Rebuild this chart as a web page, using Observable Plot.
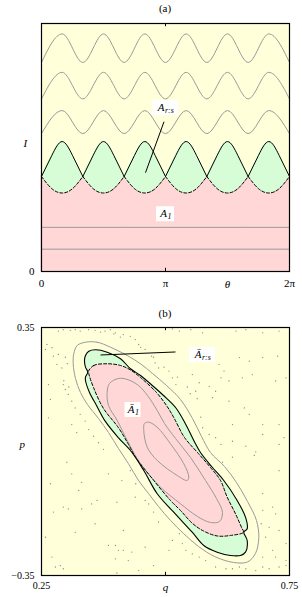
<!DOCTYPE html>
<html><head><meta charset="utf-8">
<script src="https://cdn.jsdelivr.net/npm/d3@7"></script>
<script src="https://cdn.jsdelivr.net/npm/@observablehq/plot@0.6"></script>
<style>
body{margin:0;background:#fff;width:302px;height:597px;position:relative;overflow:hidden;font-family:"Liberation Serif","DejaVu Serif",serif;}
.ptitle{position:absolute;left:0;width:330px;text-align:center;font-size:11px;line-height:12px;}
#a,#b{position:absolute;left:0;}
</style></head><body>
<div id="a" style="top:0"></div>
<div id="b" style="top:300px"></div>
<div class="ptitle" style="top:2px">(a)</div>
<div class="ptitle" style="top:307px">(b)</div>
<script>
const PI = Math.PI;
// ---------- Panel (a) data ----------
const thetaTicks = [0, PI, 2 * PI];
const thetaTickLabels = ["0", "π", "2π"];
const thetaExtrema = [0, PI/6, PI/3, PI/2, 2*PI/3, 5*PI/6, PI, 7*PI/6, 4*PI/3, 3*PI/2, 5*PI/3, 11*PI/6, 2*PI];
const grayWaveTroughs = [0.843, 0.696, 0.556];
const grayWavePeaks = [0.958, 0.803, 0.649];
const flatLevels = [0.178, 0.090];
const cuspTheta = [0, PI/3, 2*PI/3, PI, 4*PI/3, 5*PI/3, 2*PI];
const lobeFrac = [0, 0.25, 0.5, 0.75, 1];
const upperLobeI = [0.383, 0.468, 0.524, 0.468, 0.383];
const lowerLobeI = [0.383, 0.334, 0.3165, 0.334, 0.383];
const labelsA = [
  {main: "A", sub: "r:s", theta: PI, I: 0.661, dxMain: -1, dxSub: -0.5, halfW: 13},
  {main: "A", sub: "1", theta: PI, I: 0.233, dxMain: 1.5, dxSub: 2, halfW: 9}
];
const pointerA = [{theta1: 3.104, I1: 0.604, theta2: 2.635, I2: 0.3985}];

// ---------- Panel (b) data ----------
const qTicks = [0.25, 0.75];
const pTicks = [-0.35, 0.35];
const outerGray = [[0.3387,0.3085],[0.3623,0.3085],[0.3891,0.2944],[0.4228,0.271],[0.4496,0.2476],[0.4738,0.2202],[0.502,0.1863],[0.5302,0.1468],[0.5544,0.0932],[0.5726,0.0424],[0.5907,-0.0028],[0.6189,-0.0423],[0.6431,-0.0874],[0.6653,-0.141],[0.6834,-0.1946],[0.6881,-0.2433],[0.6814,-0.2878],[0.6653,-0.3118],[0.6371,-0.3132],[0.5988,-0.2962],[0.5665,-0.268],[0.5363,-0.2313],[0.51,-0.1946],[0.4859,-0.1551],[0.4657,-0.1184],[0.4456,-0.0818],[0.4254,-0.0346],[0.4052,0.0085],[0.3851,0.0537],[0.3649,0.0932],[0.3427,0.1327],[0.3286,0.1666],[0.3185,0.2061],[0.3139,0.2476],[0.3151,0.2758],[0.322,0.2992]];
const separatrix = [[0.3367,0.2569],[0.3387,0.271],[0.3454,0.2831],[0.3589,0.2871],[0.3825,0.2803],[0.4093,0.2617],[0.4294,0.2335],[0.4496,0.2145],[0.4758,0.1835],[0.496,0.1581],[0.5207,0.1234],[0.5409,0.0763],[0.5578,0.0291],[0.5705,-0.0028],[0.5947,-0.0451],[0.6175,-0.0818],[0.6445,-0.1382],[0.6613,-0.1853],[0.6647,-0.2181],[0.6579,-0.2277],[0.6647,-0.2511],[0.6613,-0.2841],[0.6512,-0.2934],[0.631,-0.2934],[0.6042,-0.2841],[0.5772,-0.2652],[0.5534,-0.2271],[0.5151,-0.1692],[0.4833,-0.1193],[0.4562,-0.0535],[0.4294,0.0029],[0.4052,0.0387],[0.3784,0.0856],[0.3609,0.1299],[0.3468,0.1666],[0.3387,0.2004],[0.3387,0.2097],[0.3433,0.2239],[0.3387,0.238]];
const islandEdge = [[0.3448,0.2267],[0.3554,0.2428],[0.3825,0.2476],[0.4093,0.2428],[0.4294,0.2301],[0.4496,0.2089],[0.4818,0.1666],[0.502,0.1299],[0.5167,0.096],[0.5383,0.0396],[0.5645,-0.0028],[0.5907,-0.0451],[0.6109,-0.0818],[0.6244,-0.1289],[0.6411,-0.1757],[0.6546,-0.2181],[0.6579,-0.2277],[0.631,-0.237],[0.6042,-0.2384],[0.5766,-0.2243],[0.5544,-0.2031],[0.5302,-0.1664],[0.51,-0.1382],[0.4764,-0.0818],[0.4395,-0.016],[0.4254,0.0198],[0.4052,0.067],[0.375,0.1214],[0.3548,0.1807],[0.3454,0.2193]];
const innerGrayLarge = [[0.4052,0.2061],[0.4234,0.2033],[0.4456,0.1863],[0.4637,0.1581],[0.4833,0.1158],[0.498,0.0791],[0.5202,0.0368],[0.5504,-0.0169],[0.5806,-0.0818],[0.6028,-0.1326],[0.6149,-0.1721],[0.6089,-0.1975],[0.5907,-0.2003],[0.5645,-0.1834],[0.5302,-0.1475],[0.4899,-0.1007],[0.4496,-0.0346],[0.4228,0.0311],[0.4026,0.0876],[0.3851,0.1299],[0.3824,0.1666],[0.3871,0.192]];
const innerGraySmall = [[0.4663,0.0827],[0.4833,0.0686],[0.51,0.0218],[0.5369,-0.0346],[0.547,-0.0724],[0.5437,-0.0818],[0.5236,-0.0677],[0.4833,-0.0253],[0.4631,0.0122],[0.4562,0.0593],[0.4577,0.0791]];
const seaDots = [[0.284,0.340],[0.294,0.344],[0.308,0.342],[0.318,0.344],[0.328,0.340],[0.345,0.344],[0.358,0.342],[0.378,0.340],[0.389,0.344],[0.399,0.335],[0.415,0.330],[0.429,0.325],[0.439,0.316],[0.446,0.302],[0.459,0.288],[0.472,0.269],[0.479,0.250],[0.486,0.236],
[0.258,0.288],[0.261,0.302],[0.271,0.293],[0.274,0.269],[0.284,0.274],[0.281,0.246],[0.291,0.236],[0.264,0.189],[0.268,0.147],[0.264,0.095],[0.294,0.189],[0.298,0.175],[0.304,0.161],[0.311,0.142],[0.318,0.123],[0.328,0.105],[0.338,0.086],[0.345,0.062],[0.355,0.043],[0.365,0.025],[0.375,0.006],[0.311,0.076],[0.321,0.053],
[0.514,0.346],[0.528,0.340],[0.551,0.344],[0.575,0.335],[0.642,0.340],[0.662,0.344],[0.696,0.335],[0.729,0.340],
[0.649,0.265],[0.669,0.255],[0.696,0.265],[0.726,0.269],
[0.608,0.246],[0.618,0.227],[0.612,0.208],[0.628,0.199],[0.655,0.208],[0.675,0.217],[0.722,0.199],[0.743,0.208],
[0.507,0.227],[0.514,0.208],[0.521,0.189],[0.554,0.217],[0.568,0.194],[0.588,0.184],[0.601,0.170],[0.561,0.170],[0.595,0.152],[0.628,0.142],[0.659,0.123],[0.669,0.105],[0.696,0.076],[0.729,0.076],[0.635,0.076],[0.575,0.067],[0.588,0.048],[0.601,0.039],[0.612,0.020],[0.635,0.029],[0.662,0.015],[0.696,0.048],[0.729,0.020],[0.739,0.039],[0.682,-0.001],
[0.301,-0.030],[0.311,-0.063],[0.331,-0.087],[0.268,-0.091],[0.325,-0.110],[0.351,-0.148],[0.362,-0.138],[0.294,-0.157],[0.304,-0.162],[0.274,-0.171],[0.331,-0.162],[0.385,-0.063],[0.412,-0.082],[0.429,-0.054],[0.440,-0.091],[0.439,-0.129],[0.459,-0.138],[0.466,-0.148],[0.476,-0.171],[0.486,-0.199],[0.402,-0.143],[0.358,-0.204],[0.318,-0.228],[0.415,-0.223],[0.258,-0.242],[0.385,-0.265],[0.399,-0.265],[0.405,-0.279],[0.415,-0.279],[0.432,-0.284],[0.425,-0.308],[0.459,-0.270],[0.271,-0.298],[0.278,-0.326],[0.288,-0.322],[0.294,-0.331],[0.399,-0.303],[0.446,-0.336],[0.476,-0.322],[0.402,-0.343],
[0.615,-0.030],[0.635,-0.016],[0.679,-0.011],[0.729,-0.054],[0.696,-0.119],[0.716,-0.157],[0.722,-0.176],[0.696,-0.166],[0.693,-0.204],[0.702,-0.242],[0.709,-0.214],[0.729,-0.223],[0.743,-0.260],[0.716,-0.279],[0.722,-0.298],[0.696,-0.298],[0.743,-0.308],[0.514,-0.251],[0.528,-0.232],[0.507,-0.279],[0.541,-0.279],[0.534,-0.260],[0.554,-0.289],[0.568,-0.298],[0.581,-0.308],[0.601,-0.326],[0.622,-0.331],[0.635,-0.331],[0.649,-0.326],[0.662,-0.331],[0.682,-0.336],[0.696,-0.326],[0.709,-0.331],[0.729,-0.326],[0.743,-0.322],
[0.450,0.294],[0.476,0.266],[0.497,0.238],[0.524,0.210],[0.544,0.182],[0.550,0.163],[0.564,0.149],[0.571,0.097],
[0.369,0.337],[0.396,0.332],[0.409,0.323],[0.298,0.266],[0.302,0.248],[0.295,0.200],[0.305,0.182]];
const labelsB = [
  {main: "Ā", sub: "r:s", q: 0.5746, p: 0.2738, dxMain: -1, dxSub: -0.5, halfW: 13},
  {main: "Ā", sub: "1", q: 0.4345, p: 0.1186, dxMain: 1.5, dxSub: 2, halfW: 8}
];
const pointerB = [{q1: 0.369, p1: 0.2724, q2: 0.5201, p2: 0.2809}];

// ---------- styles ----------
const serif = "Liberation Serif, DejaVu Serif, serif";
const bg = "#ffffd9", pink = "#ffd7d7", green = "#d7fdd7", gray = "#9a9a9a";

function labelMarks(d, x, y) {
  const base = {x, y, fontFamily: serif, fontStyle: "italic", fill: "black"};
  return [
    Plot.rect([d], {x1: x, x2: x, y1: y, y2: y, fill: "white",
      insetLeft: -d.halfW, insetRight: -d.halfW, insetTop: -7, insetBottom: -8}),
    Plot.text([d], {...base, text: "main", fontSize: 11, textAnchor: "end", dx: d.dxMain}),
    Plot.text([d], {...base, text: "sub", fontSize: 8, textAnchor: "start", dx: d.dxSub, dy: 3})
  ];
}

// ---------- build tables ----------
const waves = [];
grayWavePeaks.forEach((pk, w) => {
  thetaExtrema.forEach((t, k) => waves.push({w, theta: t, I: k % 2 === 0 ? grayWaveTroughs[w] : pk}));
});
const lobes = [];
for (let k = 0; k < cuspTheta.length - 1; k++) {
  lobeFrac.forEach((f, j) => lobes.push({
    k, theta: cuspTheta[k] + f * (cuspTheta[k + 1] - cuspTheta[k]),
    upper: upperLobeI[j], lower: lowerLobeI[j]
  }));
}

const plotA = Plot.plot({
  width: 302, height: 301,
  marginLeft: 41, marginRight: 13, marginTop: 23, marginBottom: 30,
  style: {fontFamily: serif, fontSize: "11px", background: "transparent", color: "black", overflow: "visible"},
  x: {domain: [0, 2 * PI], ticks: thetaTicks, tickFormat: d => thetaTickLabels[thetaTicks.indexOf(d)], tickSize: 0, tickPadding: 8, label: null},
  y: {domain: [0, 1], ticks: [0], tickFormat: () => "0", tickSize: 0, tickPadding: 7, label: null},
  marks: [
    Plot.frame({fill: bg, stroke: "none"}),
    Plot.areaY(lobes, {x: "theta", y1: 0, y2: "lower", z: "k", fill: pink, stroke: pink, strokeWidth: 0.8, curve: "natural"}),
    Plot.areaY(lobes, {x: "theta", y1: "lower", y2: "upper", z: "k", fill: green, stroke: green, strokeWidth: 0.8, curve: "natural"}),
    Plot.ruleY(flatLevels, {stroke: gray, strokeWidth: 1}),
    Plot.line(waves, {x: "theta", y: "I", z: "w", stroke: gray, strokeWidth: 1, curve: "monotone-x"}),
    Plot.line(lobes, {x: "theta", y: "upper", z: "k", stroke: "black", strokeWidth: 1, curve: "natural"}),
    Plot.line(lobes, {x: "theta", y: "lower", z: "k", stroke: "black", strokeWidth: 1, strokeDasharray: "3,2", curve: "natural"}),
    Plot.link(pointerA, {x1: "theta1", y1: "I1", x2: "theta2", y2: "I2", stroke: "black", strokeWidth: 1}),
    ...labelsA.flatMap(d => labelMarks(d, "theta", "I")),
    Plot.ruleX([PI], {y1: 0, y2: 0.013, stroke: "black"}),
    Plot.ruleX([PI], {y1: 0.987, y2: 1, stroke: "black"}),
    Plot.text(["θ"], {x: () => 1.5 * PI, frameAnchor: "bottom", dy: 16, text: d => d, fontStyle: "italic", fontSize: 11}),
    Plot.text(["I"], {y: () => 0.5155, frameAnchor: "left", dx: -18, text: d => d, fontStyle: "italic", fontSize: 11}),
    Plot.frame({stroke: "black", strokeWidth: 1.2})
  ]
});
document.getElementById("a").appendChild(plotA);

const fmt = d => d3.format(".2f")(d).replace("-", "−");
const plotB = Plot.plot({
  width: 302, height: 297,
  marginLeft: 41, marginRight: 13, marginTop: 27, marginBottom: 22,
  style: {fontFamily: serif, fontSize: "10px", background: "transparent", color: "black", overflow: "visible"},
  x: {domain: [0.25, 0.75], ticks: qTicks, tickFormat: fmt, tickSize: 0, tickPadding: 6, label: null},
  y: {domain: [-0.35, 0.35], ticks: pTicks, tickFormat: fmt, tickSize: 0, tickPadding: 7, label: null},
  marks: [
    Plot.frame({fill: bg, stroke: "none"}),
    Plot.dot(seaDots, {x: d => d[0], y: d => d[1], r: 0.65, fill: "#8a8a8a", stroke: "none"}),
    Plot.line(separatrix, {x: d => d[0], y: d => d[1], fill: green, stroke: "none", curve: "catmull-rom-closed"}),
    Plot.line(islandEdge, {x: d => d[0], y: d => d[1], fill: pink, stroke: "none", curve: "catmull-rom-closed"}),
    Plot.line(innerGrayLarge, {x: d => d[0], y: d => d[1], stroke: gray, strokeWidth: 1, curve: "catmull-rom-closed"}),
    Plot.line(innerGraySmall, {x: d => d[0], y: d => d[1], stroke: gray, strokeWidth: 1, curve: "catmull-rom-closed"}),
    Plot.line(outerGray, {x: d => d[0], y: d => d[1], stroke: gray, strokeWidth: 1, curve: "catmull-rom-closed"}),
    Plot.line(separatrix, {x: d => d[0], y: d => d[1], stroke: "black", strokeWidth: 1.1, curve: "catmull-rom-closed"}),
    Plot.line(islandEdge, {x: d => d[0], y: d => d[1], stroke: "black", strokeWidth: 1, strokeDasharray: "3,2", curve: "catmull-rom-closed"}),
    Plot.link(pointerB, {x1: "q1", y1: "p1", x2: "q2", y2: "p2", stroke: "black", strokeWidth: 1}),
    ...labelsB.flatMap(d => labelMarks(d, "q", "p")),
    Plot.ruleX([0.5], {y1: -0.35, y2: -0.341, stroke: "black"}),
    Plot.ruleX([0.5], {y1: 0.341, y2: 0.35, stroke: "black"}),
    Plot.text(["q"], {x: () => 0.5, frameAnchor: "bottom", dy: 15, text: d => d, fontStyle: "italic", fontSize: 11}),
    Plot.text(["p"], {y: () => 0.02, frameAnchor: "left", dx: -22, text: d => d, fontStyle: "italic", fontSize: 11}),
    Plot.frame({stroke: "black", strokeWidth: 1.2})
  ]
});
document.getElementById("b").appendChild(plotB);
</script></body></html>
